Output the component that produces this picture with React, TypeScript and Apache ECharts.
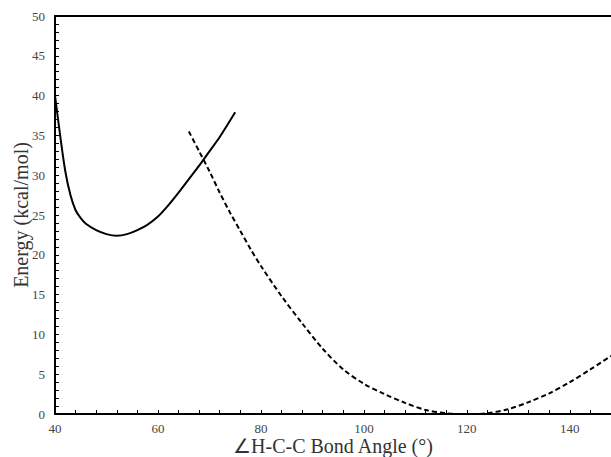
import React, { useEffect, useRef } from "react";
import * as echarts from "echarts";

const solidAngles = [40, 41, 42, 43, 44, 45, 46, 48, 50, 52, 54, 56, 58, 60, 62, 64, 66, 68, 70, 72, 75];
const solidEnergy = [40, 35, 30.5, 27.5, 25.6, 24.6, 23.9, 23.1, 22.6, 22.4, 22.6, 23.1, 23.8, 24.8, 26.2, 27.8, 29.5, 31.2, 33, 34.8, 37.9];

const dashedAngles = [66, 68, 70, 72, 74, 76, 78, 80, 84, 88, 92, 96, 100, 104, 108, 112, 116, 118, 120, 122, 124, 128, 132, 136, 140, 144, 148];
const dashedEnergy = [35.5, 33, 30.5, 27.8, 25.3, 23.0, 20.7, 18.6, 14.8, 11.4, 8.2, 5.6, 3.8, 2.5, 1.4, 0.5, 0.1, 0, 0, 0, 0.1, 0.6, 1.5, 2.6, 4.0, 5.6, 7.3];

const xLabelValues = [40, 60, 80, 100, 120, 140];

const FONT = "'Liberation Serif', 'Times New Roman', serif";

export default function App() {
  const ref = useRef<HTMLDivElement>(null);
  useEffect(() => {
    if (!ref.current) return;
    const chart = echarts.init(ref.current, undefined, { renderer: "svg" });
    const pair = (xs: number[], ys: number[]) => xs.map((x, i) => [x, ys[i]]);
    chart.setOption({
      animation: false,
      backgroundColor: "#fff",
      grid: { left: 55, top: 16, right: 0, bottom: 43, containLabel: false, outerBoundsMode: "none" },
      xAxis: [
        {
          type: "value",
          min: 40,
          max: 148,
          interval: 4,
          position: "bottom",
          name: "\u2220H-C-C Bond Angle (\u00b0)",
          nameLocation: "middle",
          nameGap: 22,
          nameMoveOverlap: false,
          nameTextStyle: { fontFamily: FONT, fontSize: 20, color: "#333", verticalAlign: "top" },
          axisLine: { show: true, onZero: false, lineStyle: { color: "#000", width: 2 } },
          axisTick: { show: true, inside: true, length: 4, lineStyle: { color: "#000", width: 1 } },
          axisLabel: {
            fontFamily: FONT,
            fontSize: 13,
            color: "#444",
            margin: 8,
            formatter: (v: number) => (xLabelValues.indexOf(v) >= 0 ? String(v) : ""),
          },
          splitLine: { show: false },
        },
        {
          type: "value",
          min: 40,
          max: 148,
          position: "top",
          axisLine: { show: true, onZero: false, lineStyle: { color: "#000", width: 2 } },
          axisTick: { show: false },
          axisLabel: { show: false },
          splitLine: { show: false },
        },
      ],
      yAxis: {
        type: "value",
        min: 0,
        max: 50,
        interval: 5,
        name: "Energy (kcal/mol)",
        nameLocation: "middle",
        nameGap: 24,
        nameMoveOverlap: false,
        nameTextStyle: { fontFamily: FONT, fontSize: 20, color: "#333" },
        axisLine: { show: true, lineStyle: { color: "#000", width: 2 } },
        axisTick: { show: true, inside: true, length: 4, lineStyle: { color: "#000", width: 1 } },
        minorTick: { show: true, splitNumber: 5, length: 4, lineStyle: { color: "#000", width: 1 } },
        axisLabel: { fontFamily: FONT, fontSize: 13, color: "#444", margin: 10 },
        splitLine: { show: false },
      },
      series: [
        {
          type: "line",
          data: pair(solidAngles, solidEnergy),
          showSymbol: false,
          smooth: 0.3,
          lineStyle: { color: "#000", width: 2 },
        },
        {
          type: "line",
          data: pair(dashedAngles, dashedEnergy),
          showSymbol: false,
          smooth: 0.3,
          lineStyle: { color: "#000", width: 2, type: [5, 3] },
        },
      ],
    });
    return () => chart.dispose();
  }, []);
  return (
    <div
      ref={ref}
      style={{ position: "fixed", left: 0, top: 0, width: 611, height: 457, background: "#fff" }}
    />
  );
}
